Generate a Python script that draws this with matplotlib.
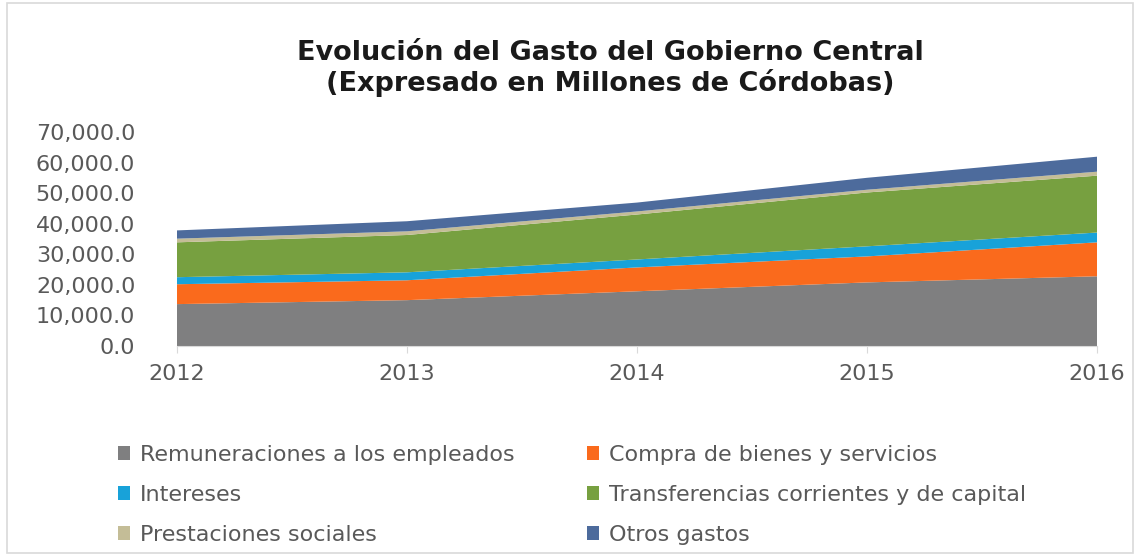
import matplotlib
matplotlib.use("Agg")
import matplotlib.pyplot as plt
from matplotlib.patches import Patch, Rectangle
from matplotlib.ticker import FuncFormatter

# values, millions of cordobas
years = [2012, 2013, 2014, 2015, 2016]
remuneraciones = [13.7, 15.0, 17.9, 20.8, 22.8]
compra = [6.5, 6.5, 7.8, 8.5, 11.1]
intereses = [2.3, 2.6, 2.6, 3.3, 3.2]
transferencias = [11.4, 12.2, 14.7, 17.6, 18.6]
prestaciones = [1.2, 1.2, 1.0, 0.9, 1.3]
otros = [2.7, 3.3, 2.9, 3.9, 4.9]

labels = [
    "Remuneraciones a los empleados",
    "Compra de bienes y servicios",
    "Intereses",
    "Transferencias corrientes y de capital",
    "Prestaciones sociales",
    "Otros gastos",
]
colors = ["#7f7f80", "#fa6a1c", "#18a2d9", "#77a040", "#c4bd97", "#4d6b9c"]

series = [remuneraciones, compra, intereses, transferencias, prestaciones, otros]
series = [[v * 1000 for v in s] for s in series]

text_gray = "#595959"

fig = plt.figure(figsize=(11.38, 5.59), dpi=100)
fig.patches.append(Rectangle((0.006, 0.01), 0.99, 0.985, transform=fig.transFigure,
                             fill=False, edgecolor="#d9d9d9", linewidth=1.2))

ax = fig.add_axes([0.1555, 0.381, 0.8085, 0.383])
ax.stackplot(years, *series, colors=colors, linewidth=0)

ax.set_xlim(years[0], years[-1])
ax.set_ylim(0, 70000)
ax.set_yticks(range(0, 70001, 10000))
ax.yaxis.set_major_formatter(FuncFormatter(lambda v, p: f"{v:,.1f}"))
ax.set_xticks(years)

for side in ["top", "right", "left"]:
    ax.spines[side].set_visible(False)
ax.spines["bottom"].set_color("#d9d9d9")
ax.tick_params(axis="y", length=0, pad=30, labelsize=16, labelcolor=text_gray)
ax.tick_params(axis="x", length=5, color="#d9d9d9", pad=8, labelsize=16, labelcolor=text_gray)

fig.text(0.536, 0.877, "Evolución del Gasto del Gobierno Central\n(Expresado en Millones de Córdobas)",
         ha="center", va="center", fontsize=19.5, fontweight="bold",
         color="#1a1a1a", linespacing=1.15)

handles = [Patch(facecolor=c, edgecolor="none") for c in colors]
order_cols = [[0, 2, 4], [1, 3, 5]]
anchors = [(0.086, 1 - 425 / 559), (0.498, 1 - 425 / 559)]
for idx, anchor in zip(order_cols, anchors):
    leg = fig.legend([handles[i] for i in idx], [labels[i] for i in idx],
                     loc="upper left", bbox_to_anchor=anchor, frameon=False,
                     fontsize=16, labelcolor=text_gray, handlelength=0.55,
                     handleheight=0.55, handletextpad=0.45, labelspacing=0.9)

fig.savefig("out.png", dpi=100)
